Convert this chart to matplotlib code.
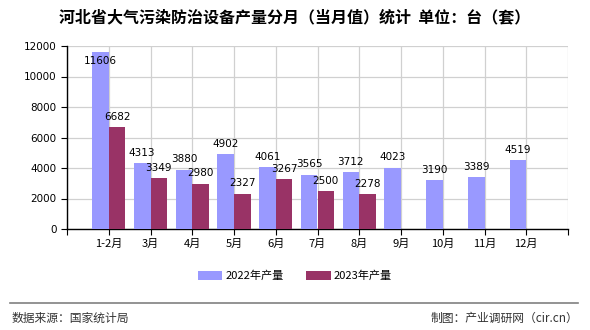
import matplotlib
matplotlib.use("Agg")
import matplotlib.pyplot as plt
import numpy as np

plt.rcParams['font.family'] = ['Noto Sans CJK SC', 'DejaVu Sans']

categories = ["1-2月", "3月", "4月", "5月", "6月", "7月", "8月", "9月", "10月", "11月", "12月"]
values_2022 = [11606, 4313, 3880, 4902, 4061, 3565, 3712, 4023, 3190, 3389, 4519]
values_2023 = [6682, 3349, 2980, 2327, 3267, 2500, 2278]
series_names = ["2022年产量", "2023年产量"]
colors = ["#9999FF", "#993366"]

fig = plt.figure(figsize=(5.9, 3.3), dpi=100)
ax = fig.add_axes([67/590, 1-229/330, (568-67)/590, (229-46)/330])

x = np.arange(1, len(categories) + 1)
w = 0.4
x22 = x - w/2
x23 = x[:len(values_2023)] + w/2
b1 = ax.bar(x22, values_2022, width=w, color=colors[0], label=series_names[0], zorder=3)
b2 = ax.bar(x23, values_2023, width=w, color=colors[1], label=series_names[1], zorder=3)

for xs, vs in ((x22, values_2022), (x23, values_2023)):
    for xi, v in zip(xs, vs):
        y = v + 350 if v < 11000 else v - 950
        ax.text(xi, y, str(v), ha='center', va='bottom', fontsize=7.5,
                family=['DejaVu Sans'], zorder=4)

ax.set_xlim(0, 12)
ax.set_ylim(0, 12000)
ax.set_yticks(range(0, 12001, 2000))
ax.set_yticklabels([str(v) for v in range(0, 12001, 2000)], fontsize=7.5, family=['DejaVu Sans'])
ax.set_xticks(range(0, 13))
ax.set_xticklabels([""] + categories + [""], fontsize=8)
ax.tick_params(axis='x', length=4, direction='out', color='black', pad=3)
ax.tick_params(axis='y', length=4, direction='out')
ax.grid(True, color='#d0d0d0', linewidth=0.9, zorder=0)
for s in ('top', 'right'):
    ax.spines[s].set_visible(False)
for s in ('left', 'bottom'):
    ax.spines[s].set_color('black')
    ax.spines[s].set_linewidth(1)

fig.text(0.5, 1-17/330, "河北省大气污染防治设备产量分月（当月值）统计  单位：台（套）",
         ha='center', va='center', fontsize=11.5, fontweight='bold')

fig.legend(handles=[b1, b2], labels=series_names, loc='center',
           bbox_to_anchor=(0.5, 1-276/330), ncol=2, frameon=False, fontsize=8,
           handlelength=2.2, handleheight=0.9, columnspacing=2, handletextpad=0.3)

fig.add_artist(plt.Line2D([10/590, 578/590], [1-303/330, 1-303/330],
                          color='#808080', linewidth=1.2))
fig.text(12/590, 1-318/330, "数据来源：国家统计局", ha='left', va='center', fontsize=8.5, color='#333333')
fig.text(578/590, 1-318/330, "制图：产业调研网（cir.cn）", ha='right', va='center', fontsize=8.5, color='#333333')

fig.savefig("out.png", dpi=100)
